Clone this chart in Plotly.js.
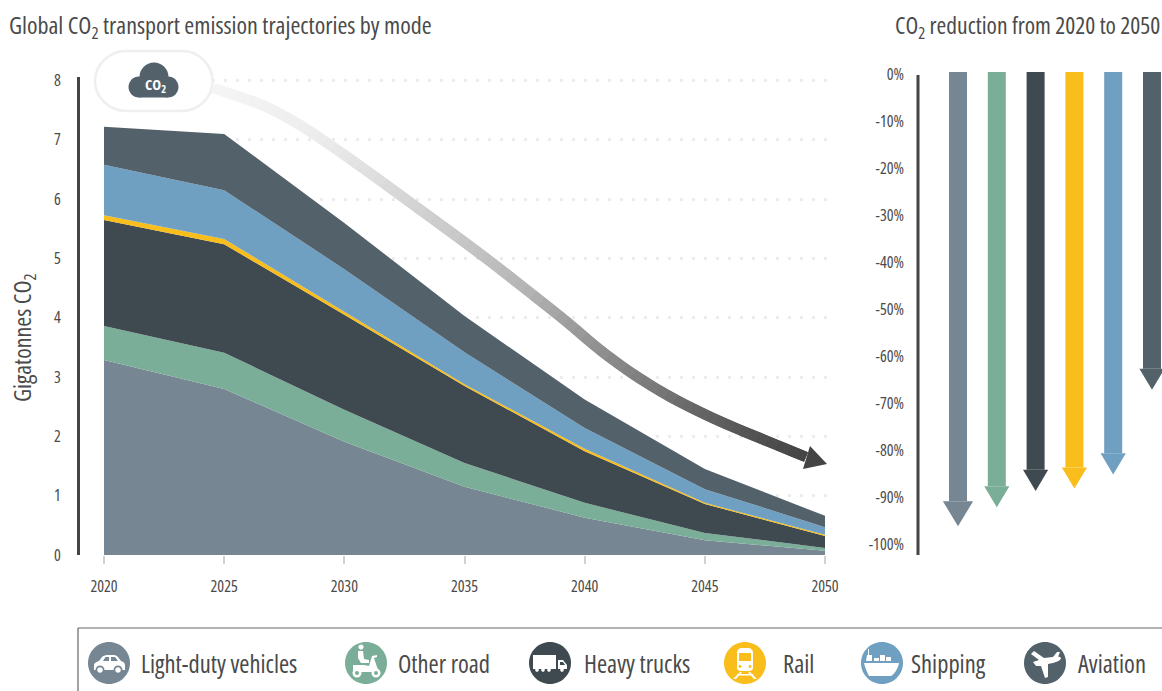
<!DOCTYPE html>
<html><head><meta charset="utf-8">
<script src="https://cdn.plot.ly/plotly-3.0.1.min.js"></script>
<style>html,body{margin:0;padding:0;background:#fff}#c{width:1162px;height:691px}text,tspan{font-stretch:75% !important}</style>
</head><body><div id="c"></div>
<script>
const years=[2020,2025,2030,2035,2040,2045,2050];
const modes=['Light-duty vehicles','Other road','Heavy trucks','Rail','Shipping','Aviation'];
const lightDuty=[3.29,2.80,1.91,1.15,0.63,0.25,0.07];
const otherRoad=[0.57,0.61,0.54,0.40,0.25,0.12,0.05];
const heavyTrucks=[1.79,1.83,1.60,1.30,0.87,0.49,0.20];
const rail=[0.08,0.09,0.05,0.03,0.04,0.02,0.02];
const shipping=[0.85,0.82,0.72,0.54,0.35,0.23,0.13];
const aviation=[0.64,0.95,0.78,0.61,0.48,0.34,0.19];
const reduction=[-96.2,-92.2,-88.7,-88.2,-85.2,-67.2];
const colors=['#768692','#7BAE98','#3F4A50','#F9BE1C','#6F9FC1','#53616B'];
const pctTicks=[0,-10,-20,-30,-40,-50,-60,-70,-80,-90,-100];
const pctLabels=['0%','-10%','-20%','-30%','-40%','-50%','-60%','-70%','-80%','-90%','-100%'];
const yTicks=[0,1,2,3,4,5,6,7,8];

const W=1162,H=691,INK='#4a4a4a';
const F=(size,color)=>({family:'"Open Sans",sans-serif',size,color:color||INK});
const fx=x=>x/W, fy=y=>1-y/H;
const P=(s,cx=0,cy=0)=>s.replace(/(-?[\d.]+),(-?[\d.]+)/g,(m,a,b)=>fx(+a+cx).toFixed(5)+','+fy(+b+cy).toFixed(5));
const circ=(x,y,r,ry)=>{ry=ry||r;const k=.5523;return `M${x-r},${y} C${x-r},${y-k*ry} ${x-k*r},${y-ry} ${x},${y-ry} C${x+k*r},${y-ry} ${x+r},${y-k*ry} ${x+r},${y} C${x+r},${y+k*ry} ${x+k*r},${y+ry} ${x},${y+ry} C${x-k*r},${y+ry} ${x-r},${y+k*ry} ${x-r},${y} Z`;};
const shapes=[];
const fillShape=(path,color,cx,cy,line)=>shapes.push({type:'path',xref:'paper',yref:'paper',path:P(path,cx,cy),fillcolor:color,line:line||{width:0}});

// ---- stacked areas
const series=[lightDuty,otherRoad,heavyTrucks,rail,shipping,aviation];
const traces=series.map((v,i)=>({type:'scatter',x:years,y:v,name:modes[i],stackgroup:'one',mode:'none',fillcolor:colors[i],xaxis:'x',yaxis:'y',showlegend:false,hovertemplate:modes[i]+' %{x}: %{y} Gt<extra></extra>'}));

// ---- reduction arrows: shaft bar + head polygon, all from the reduction values
const SHAFT_TOP=0.43, HEAD_W=i=>i===0?0.39:0.325, HEAD_H=i=>i===0?5.3:4.5;
traces.push({type:'bar',x:modes.map((m,i)=>i),y:reduction.map((v,i)=>v+HEAD_H(i)-SHAFT_TOP),base:SHAFT_TOP,width:0.464,marker:{color:colors,line:{width:0}},xaxis:'x2',yaxis:'y2',cliponaxis:false,showlegend:false,text:modes,textposition:'none',hovertemplate:'%{text}<extra></extra>'});
reduction.forEach((v,i)=>{const h=HEAD_H(i),w=HEAD_W(i);
 traces.push({type:'scatter',x:[i-w,i+w,i,i-w],y:[v+h,v+h,v,v+h],mode:'lines',fill:'toself',fillcolor:colors[i],line:{width:0,color:colors[i]},xaxis:'x2',yaxis:'y2',cliponaxis:false,showlegend:false,hoverinfo:'skip'});
});

// ---- gradient trend arrow (decoration)
const pts=[[213,88],[243,98],[267,107],[300,125],[333,147],[367,171],[400,195],[433,219],[467,244],[500,269],[533,295],[567,322],[600,350],[633,374],[667,395],[700,412],[733,427],[767,441],[806,457]];
const grayStops=[[213,245],[300,238],[333,232],[467,196],[520,181],[583,149],[633,128],[683,106],[733,88],[783,72],[806,68]];
const grayAt=x=>{for(let i=0;i<grayStops.length-1;i++){const a=grayStops[i],b=grayStops[i+1];if(x<=b[0])return Math.round(a[1]+(b[1]-a[1])*(x-a[0])/(b[0]-a[0]));}return 68;};
const sampled=[];
for(let i=0;i<pts.length-1;i++){const p0=pts[Math.max(i-1,0)],p1=pts[i],p2=pts[i+1],p3=pts[Math.min(i+2,pts.length-1)];
 for(let k=0;k<4;k++){const t=k/4,a=t*t,b=a*t;
  sampled.push([0,1].map(j=>.5*(2*p1[j]+(p2[j]-p0[j])*t+(2*p0[j]-5*p1[j]+4*p2[j]-p3[j])*a+(3*p1[j]-p0[j]-3*p2[j]+p3[j])*b)));}}
sampled.push(pts[pts.length-1]);
for(let i=0;i<sampled.length-1;i++){const a=sampled[i],b=sampled[Math.min(i+2,sampled.length-1)],g=grayAt(a[0]);
 shapes.push({type:'line',xref:'paper',yref:'paper',x0:fx(a[0]),y0:fy(a[1]),x1:fx(b[0]),y1:fy(b[1]),line:{color:`rgb(${g},${g},${g})`,width:10.5}});}
fillShape('M810,446 L827,464 L803,469 Z','#444444');

// ---- CO2 pill
fillShape('M126,51 L182,51 C199,51 212.5,65 212.5,81 C212.5,97 199,111 182,111 L126,111 C109,111 95,97 95,81 C95,65 109,51 126,51 Z','#ffffff',0,0,{color:'#efefef',width:2.5});
const cloud='#53616B';
fillShape(circ(154,77,14.5),cloud);fillShape(circ(139,87,10.5),cloud);fillShape(circ(168,87,10.5),cloud);
fillShape('M139,77 L168,77 L168,97.5 L139,97.5 Z',cloud);

// ---- right axis line & legend frame
shapes.push({type:'line',xref:'paper',yref:'paper',x0:fx(918),x1:fx(918),y0:fy(75),y1:fy(555),line:{color:'#444',width:3}});
shapes.push({type:'line',xref:'paper',yref:'paper',x0:fx(78),x1:1,y0:fy(628),y1:fy(628),line:{color:'#666',width:1.2}});
shapes.push({type:'line',xref:'paper',yref:'paper',x0:fx(78),x1:fx(78),y0:fy(628),y1:0,line:{color:'#666',width:1.2}});
const legendCx=[109,366,550,745,882,1045], legendTx=[139,396,582,781,909,1076], LY=663, LR=21;
legendCx.forEach((c,i)=>fillShape(circ(c,LY,LR),colors[i]));
const w='#ffffff';
// car
fillShape('M-15,7 L-15,2 C-15,0 -13,-1 -10,-2 L-7,-6 C-6,-7 -4,-8 -2,-8 L5,-8 C7,-8 8,-7 9,-6 L12,-2 C15,-1 16,0 16,3 L16,7 Z',w,109,LY);
fillShape('M-6,-2 L-3.5,-6 L0,-6 L0,-2 Z',colors[0],109,LY);fillShape('M2,-2 L2,-6 L6,-6 L9,-2 Z',colors[0],109,LY);
[-9,9].forEach(d=>{fillShape(circ(d,7,4.5),colors[0],109,LY);fillShape(circ(d,7,2.8),w,109,LY);});
// scooter
fillShape(circ(-5,-16,2.6),w,366,LY);
fillShape('M-8,-12 L-3,-12 L-2,-4 L3,-3 L3,0 L-5,0 L-8,-5 Z',w,366,LY);
fillShape('M-13,2 L-2,2 L3,3 L6,-7 L11,-8 L11,-6 L8,-5 L11,4 L13,9 L-13,9 Z',w,366,LY);
[-9,10].forEach(d=>{fillShape(circ(d,10,4.5),w,366,LY);fillShape(circ(d,10,2),colors[1],366,LY);});
// truck
fillShape('M-17,-8 L6,-8 L6,6 L-17,6 Z',w,550,LY);
fillShape('M8,-3 L13,-3 L17,2 L17,6 L8,6 Z',w,550,LY);
fillShape('M10,-1 L13,-1 L15,2 L10,2 Z',colors[2],550,LY);
[-13,-7,-1,12].forEach(d=>fillShape(circ(d,7,1.8),w,550,LY));
// train
fillShape('M-8,-10 C-8,-14 -5,-15 -3,-15 L3,-15 C5,-15 8,-14 8,-10 L8,5 C8,7 6,8 4,8 L-4,8 C-6,8 -8,7 -8,5 Z',w,745,LY);
fillShape('M-6,-10 L6,-10 L6,-2 L-6,-2 Z',colors[3],745,LY);
[-5,5].forEach(d=>fillShape(circ(d,3.5,1.4),colors[3],745,LY));
fillShape('M-5,9 L-3,9 L-9,16 L-12,16 Z',w,745,LY);fillShape('M3,9 L5,9 L12,16 L9,16 Z',w,745,LY);
fillShape('M-8,11 L8,11 L8,12.5 L-8,12.5 Z',w,745,LY);
// ship
fillShape('M-18,0 L17,0 C16,5 13,11 9,13 L-13,13 C-15,9 -17,5 -18,0 Z',w,882,LY);
fillShape('M-15,-8 L-14,-8 L-14,-14 L-13,-14 L-13,-8 L-10,-8 L-10,-2 L-16,-2 Z',w,882,LY);
fillShape('M-8,-5 L-3,-5 L-3,-2 L-8,-2 Z',w,882,LY);fillShape('M-2,-8 L3,-8 L3,-2 L-2,-2 Z',w,882,LY);fillShape('M4,-6 L9,-6 L9,-2 L4,-2 Z',w,882,LY);
// plane
fillShape('M-14,-9 L-11,-12 L-1,-5 L8,-6 C12,-7 16,-6 16,-5 C16,-3 12,-1 8,0 L3,1 L3,14 L0,15 L-4,3 L-9,3 L-12,-1 L-6,-3 Z',w,1045,LY);
fillShape('M8,-6 L12,-11 L15,-11 L13,-6 Z',w,1045,LY);

const ann=(text,x,y,size,extra)=>Object.assign({text,xref:'paper',yref:'paper',x:fx(x),y:fy(y),showarrow:false,xanchor:'left',yanchor:'middle',font:F(size)},extra||{});
const annotations=[
 ann('CO<sub>2</sub> reduction from 2020 to 2050',1162,26,23.5,{xanchor:'right'}),
 ann('Gigatonnes CO<sub>2</sub>',23,338,24,{textangle:-90,xanchor:'center'}),
 ann('CO<sub>2</sub>',155,85,14,{xanchor:'center',font:{family:'"Open Sans",sans-serif',size:15,color:'#fff',weight:700}})
];
modes.forEach((m,i)=>annotations.push(ann(m,legendTx[i],663,24.5)));

const layout={
 width:W,height:H,margin:{l:0,r:0,t:0,b:0},paper_bgcolor:'#fff',plot_bgcolor:'rgba(0,0,0,0)',showlegend:false,barmode:'overlay',
 font:F(15),
 title:{text:'Global CO<sub>2</sub> transport emission trajectories by mode',x:fx(9),xanchor:'left',xref:'paper',y:fy(26),yanchor:'middle',font:F(24)},
 xaxis:{domain:[fx(104),fx(831)],range:[2020,2050.25],tickvals:years,ticks:'outside',ticklen:8,tickwidth:2,tickcolor:'#d2d2d2',showgrid:false,zeroline:false,showline:false,tickfont:F(16),ticklabelstandoff:9,anchor:'y'},
 yaxis:{domain:[fy(555),fy(77)],range:[0,8.06],tickvals:yTicks,anchor:'free',position:fx(78),showline:true,linecolor:'#444',linewidth:3,showgrid:true,gridcolor:'#ededed',gridwidth:3,griddash:'3px,9px',zeroline:false,ticks:'',ticklabelstandoff:13,tickfont:F(16)},
 xaxis2:{domain:[fx(940),1],range:[-0.464,5.258],showticklabels:false,ticks:'',showgrid:false,zeroline:false,showline:false,anchor:'y2'},
 yaxis2:{domain:[fy(555),fy(72)],range:[-102.34,0.43],tickvals:pctTicks,ticktext:pctLabels,anchor:'free',position:fx(918),showline:false,showgrid:false,zeroline:false,ticks:'',ticklabelstandoff:14,tickfont:F(16)},
 shapes,annotations
};
Plotly.newPlot('c',traces,layout,{staticPlot:true,displayModeBar:false});
</script></body></html>
